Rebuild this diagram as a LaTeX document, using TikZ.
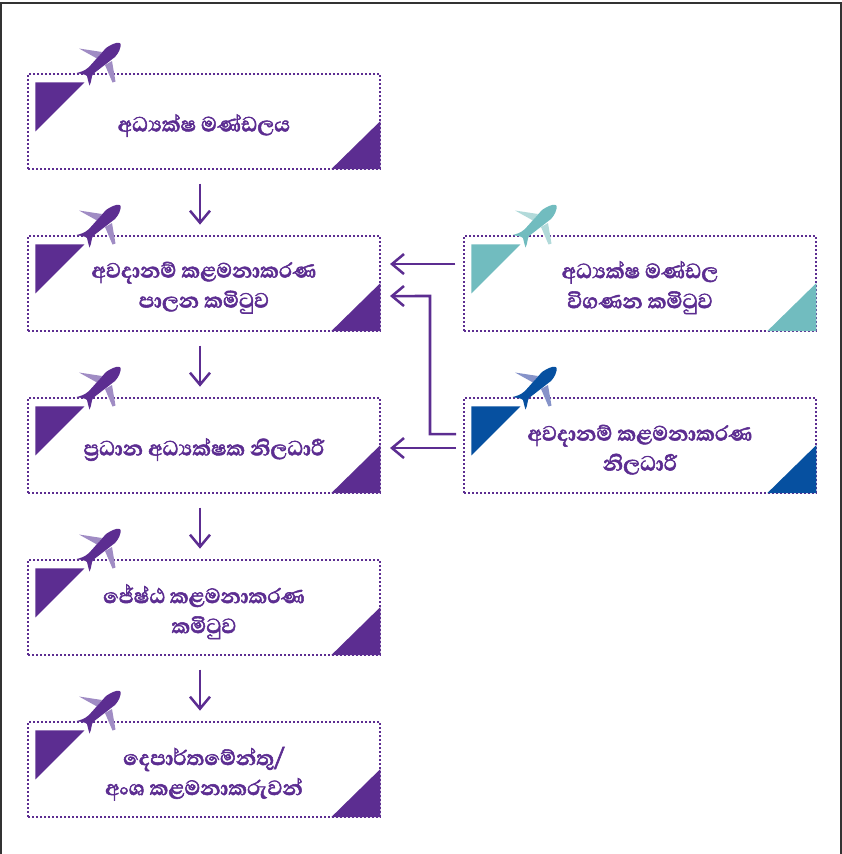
\documentclass[tikz,border=0pt]{standalone}
\usepackage{fontspec}
\usetikzlibrary{arrows.meta,calc}
\newfontfamily\sinfont[Script=Sinhala,BoldFeatures={FakeBold=2}]{Abhaya Libre}
\definecolor{pur}{HTML}{5C2D91}
\definecolor{purl}{HTML}{A08CC4}
\definecolor{tl}{HTML}{71BCBF}
\definecolor{tll}{HTML}{B2DADA}
\definecolor{blu}{HTML}{0650A0}
\definecolor{blul}{HTML}{8693C9}
\tikzset{
  boxnode/.style={draw=pur,line width=1.5pt,dash pattern=on 1.3pt off 1.7pt,minimum width=264pt,minimum height=71.25pt,inner sep=0pt,outer sep=0pt,anchor=north west},
  labelnode/.style={font=\sinfont\bfseries\fontsize{19.8pt}{22.5pt}\selectfont,text=pur,align=center,inner sep=0pt},
  arr/.style={draw=pur,line width=1.9pt,-{Straight Barb[length=9pt,width=15pt,line width=1.9pt]}},
  pics/deco/.style n args={2}{code={
    \fill[#1] (7.4,8.4) -- (56.4,8.4) -- (7.4,57.4) -- cycle;
    \fill[#1] (352.4,47) -- (352.4,95) -- (303.4,95) -- cycle;
    \fill[#2] (51,-25.5) -- (74,-22) -- (69,-15.5) -- cycle;
    \fill[#2] (77,-9) -- (84,-13) -- (87.5,7.5) -- (84.5,8.5) -- cycle;
    \fill[#1] (92.7,-30) .. controls (92,-32.5) and (86,-31.5) .. (78,-26) -- (61,-7) .. controls (56,-2.5) and (52,-2) .. (48.7,-1) .. controls (53,0) and (57,0) .. (59,2) .. controls (60,5) and (60,8) .. (61.5,11.5) .. controls (64,7) and (63,3) .. (65,0) -- (87,-17) .. controls (91,-21) and (93,-27) .. (92.7,-30) -- cycle;
  }}
}
\begin{document}
\begin{tikzpicture}[x=0.75pt,y=-0.75pt]
\useasboundingbox (0,0) rectangle (842,854);
\draw[black!80,line width=1.2pt] (1,854) -- (1,3) -- (841,3) -- (841,854);
\foreach \xx/\yy/\nm/\cc/\cl/\lbl in {
 28/74/b1/pur/purl/{අධ්‍යක්ෂ මණ්ඩලය},
 28/236/b2/pur/purl/{අවදානම් කළමනාකරණ\\පාලන කමිටුව},
 28/398/b3/pur/purl/{ප්‍රධාන අධ්‍යක්ෂක නිලධාරී},
 28/560/b4/pur/purl/{ජේෂ්ඨ කළමනාකරණ\\කමිටුව},
 28/722/b5/pur/purl/{දෙපාර්තමේන්තු/\\අංශ කළමනාකරුවන්},
 464/236/r1/tl/tll/{අධ්‍යක්ෂ මණ්ඩල\\විගණන කමිටුව},
 464/398/r2/blu/blul/{අවදානම් කළමනාකරණ\\නිලධාරී}}
{
 \node[boxnode] (\nm) at (\xx,\yy) {};
 \pic at (\xx,\yy) {deco={\cc}{\cl}};
 \node[labelnode] (\nm t) at ($(\nm.center)+(0,-3.1pt)$) {\lbl};
}
\draw[arr,shorten <=11pt,shorten >=8.5pt] ([xshift=-3pt]b1.south) -- ([xshift=-3pt]b2.north);
\draw[arr,shorten <=11pt,shorten >=8.5pt] ([xshift=-3pt]b2.south) -- ([xshift=-3pt]b3.north);
\draw[arr,shorten <=11pt,shorten >=8.5pt] ([xshift=-3pt]b3.south) -- ([xshift=-3pt]b4.north);
\draw[arr,shorten <=11pt,shorten >=8.5pt] ([xshift=-3pt]b4.south) -- ([xshift=-3pt]b5.north);
\draw[arr,shorten <=6.5pt,shorten >=7.5pt] ([yshift=14.6pt]r1.west) -- ([yshift=14.6pt]b2.east);
\draw[arr,shorten <=6pt,shorten >=7.5pt] ([yshift=-1.9pt]r2.west) -- ([yshift=-1.9pt]b3.east);
\draw[arr,shorten <=6pt,shorten >=7.5pt] ([yshift=8.6pt]r2.west) -| (430,296) -- ([yshift=-9.4pt]b2.east);
\end{tikzpicture}
\end{document}
